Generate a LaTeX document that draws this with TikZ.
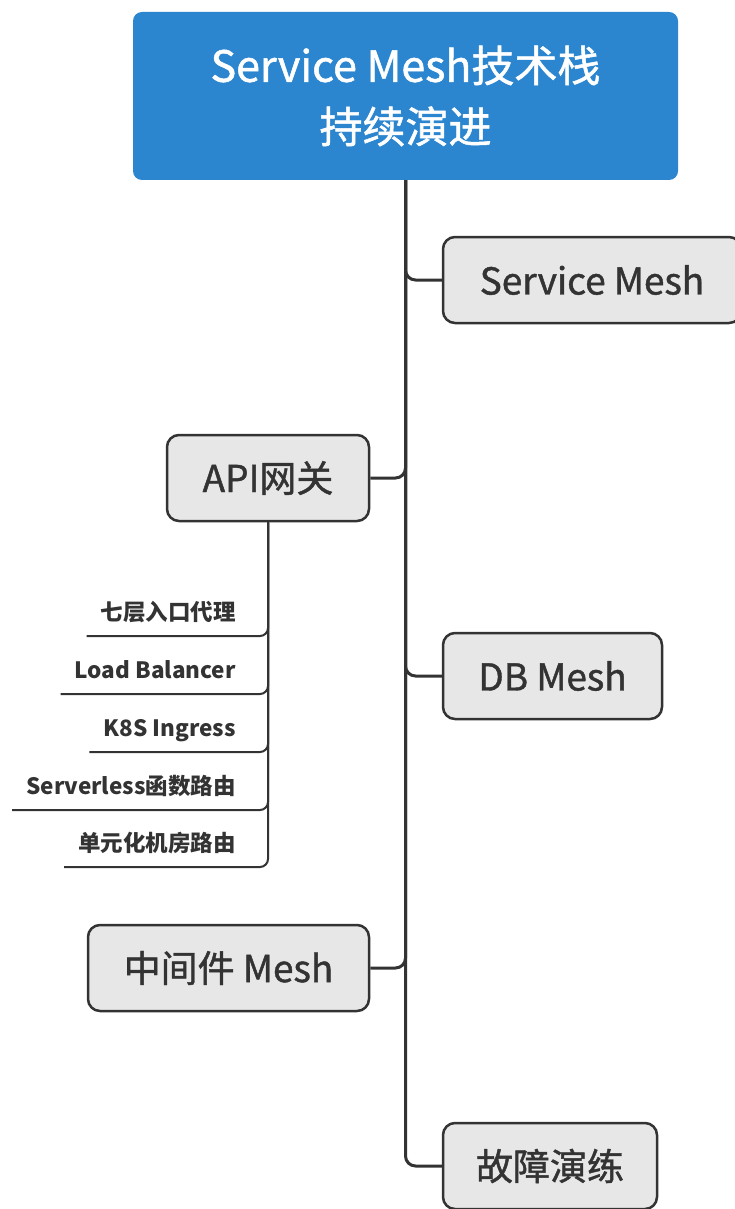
\documentclass[tikz,border=0pt]{standalone}
\usepackage{fontspec}
\setmainfont{Noto Sans CJK SC}
\newfontfamily\medfont[FakeBold=1.2]{Noto Sans CJK SC}
\usepackage{xcolor}
\definecolor{rootblue}{RGB}{43,134,207}
\definecolor{boxgray}{RGB}{231,231,231}
\definecolor{linegray}{RGB}{51,51,51}
\usepackage{tikz}
\usetikzlibrary{positioning}
\tikzset{
  rootbox/.style={rectangle, rounded corners=9pt, fill=rootblue, text=white, align=center,
    font=\medfont\fontsize{43}{61}\selectfont, minimum width=545pt, minimum height=168pt},
  topicbox/.style={rectangle, rounded corners=12pt, draw=linegray, line width=2.5pt, fill=boxgray,
    text=linegray, font=\medfont\fontsize{37}{42}\selectfont, minimum height=86pt},
  leafnode/.style={rectangle, inner xsep=14pt, inner ysep=0pt, text height=16pt, text depth=15pt,
    text=linegray, font=\bfseries\fontsize{22.5}{26}\selectfont, anchor=south east},
  branch/.style={draw=linegray, line width=3pt, rounded corners=10pt},
  subbranch/.style={draw=linegray, line width=2pt, rounded corners=8pt},
}

\begin{document}
\begin{tikzpicture}[x=1pt, y=-1pt]
  % canvas
  \fill[white] (0,0) rectangle (735,1209);
  \useasboundingbox (0,0) rectangle (735,1209);

  % --- Root ---
  \node[rootbox] (root) at (405.5,96) {Service Mesh技术栈\\持续演进};

  % --- Main topics ---
  \node[topicbox, minimum width=298pt] (svcmesh) at (592,280) {Service Mesh};
  \node[topicbox, minimum width=202pt] (apigw) at (268,478) {API网关};
  \node[topicbox, minimum width=219pt] (dbmesh) at (552.5,676) {DB Mesh};
  \node[topicbox, minimum width=281pt] (mwmesh) at (228.5,968) {中间件 Mesh};
  \node[topicbox, minimum width=214pt] (chaos) at (550,1166) {故障演练};

  % Trunk and branches
  \draw[branch] (root.south) |- (svcmesh.west);
  \draw[branch] (root.south) |- (apigw.east);
  \draw[branch] (root.south) |- (dbmesh.west);
  \draw[branch] (root.south) |- (mwmesh.east);
  \draw[branch] (root.south) |- (chaos.west);

  % --- API gateway leaves ---
  \node[leafnode] (l7proxy) at (250,636) {七层入口代理};
  \node[leafnode] (lb) at (250,694) {Load Balancer};
  \node[leafnode] (ingress) at (250,752) {K8S Ingress};
  \node[leafnode] (faas) at (250,810) {Serverless函数路由};
  \node[leafnode] (unitroute) at (250,867) {单元化机房路由};

  \draw[subbranch] (apigw.south) |- (l7proxy.south west);
  \draw[subbranch] (apigw.south) |- (lb.south west);
  \draw[subbranch] (apigw.south) |- (ingress.south west);
  \draw[subbranch] (apigw.south) |- (faas.south west);
  \draw[subbranch] (apigw.south) |- (unitroute.south west);
\end{tikzpicture}
\end{document}
